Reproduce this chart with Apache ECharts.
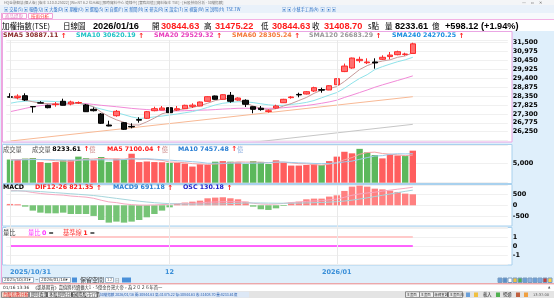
<!DOCTYPE html>
<html><head><meta charset="utf-8">
<script src="https://cdn.jsdelivr.net/npm/echarts@6/dist/echarts.min.js"></script>
<style>html,body{margin:0;padding:0;background:#dfeffb;overflow:hidden}#c{width:554px;height:298px}</style>
</head><body><div id="c"></div>
<script>
// ---------------- DATA ----------------
const dates = ['2025/10/31',
 '2025/11/03','2025/11/04','2025/11/05','2025/11/06','2025/11/07',
 '2025/11/10','2025/11/11','2025/11/12','2025/11/13','2025/11/14',
 '2025/11/17','2025/11/18','2025/11/19','2025/11/20','2025/11/21',
 '2025/11/24','2025/11/25','2025/11/26','2025/11/27','2025/11/28',
 '2025/12/01','2025/12/02','2025/12/03','2025/12/04','2025/12/05',
 '2025/12/08','2025/12/09','2025/12/10','2025/12/11','2025/12/12',
 '2025/12/15','2025/12/16','2025/12/17','2025/12/18','2025/12/19',
 '2025/12/22','2025/12/23','2025/12/24','2025/12/26',
 '2025/12/29','2025/12/30','2025/12/31',
 '2026/01/02',
 '2026/01/05','2026/01/06','2026/01/07','2026/01/08','2026/01/09',
 '2026/01/12','2026/01/13','2026/01/14','2026/01/15','2026/01/16'];
const tickDates  = ['2025/10/31','2025/12/01','2026/01/02'];
const tickLabels = ['2025/10/31','12','2026/01'];

const opens = [28300,28262,28364,27730,27950,27801,27840,28036,27878,27940,
 27818,27566,27290,26644,27190,26779,26560,26960,27037,27484,
 27525,27660,27525,27601,27740,27760,28036,28347,28153,28388,
 28112,28094,27718,27630,27440,27642,27953,28250,28440,28464,
 28640,28720,28699,29010,29780,29990,30420,30300,30345,30502,
 30660,30772,30790,30844.63];
const highs = [28510,28447,28505,27740,28040,27836,27995,28188,28071,28030,
 27877,27680,27349,26896,27525,26820,26744,27100,27466,27718,
 27760,27760,27760,27836,27918,28020,28330,28370,28450,28582,
 28270,28153,27730,27760,27566,27836,28180,28347,28541,28640,
 28893,28834,28980,29390,30250,30600,30654,30560,30560,30737,
 30930,31007,30890,31475.22];
const lows = [28260,28153,28053,27366,27925,27625,27718,27790,27800,27880,
 27407,27440,26703,26570,27131,26350,26450,26780,26996,27448,
 27520,27290,27466,27590,27642,27750,28020,28130,28140,27953,
 28071,27701,27331,27484,27366,27601,27940,28188,28270,28440,
 28582,28541,28690,29000,29750,29950,30302,30226,29950,30461,
 30502,30737,30713,30844.63];
const closes = [28280,28338,28112,27710,27930,27660,27875,27801,27995,27965,
 27425,27484,26744,26585,27448,26391,26530,26930,27425,27601,
 27642,27366,27600,27800,27810,27995,28306,28153,28423,28036,
 28229,27859,27566,27550,27480,27760,28153,28290,28410,28599,
 28834,28690,28951,29363,30105,30576,30500,30345,30289,30620,
 30750,30948,30810.58,31408.70];
const closeBefore = 28350; // close of the session before the window

const sma5 = [28270,28190,28112,28010,27918,27900,27880,27877,27890,27918,
 27850,27718,27400,27150,26950,26800,26650,26644,26830,27050,
 27300,27420,27520,27600,27670,27780,27920,28080,28170,28210,
 28120,27940,27760,27620,27540,27600,27760,27900,28080,28260,
 28500,28690,28780,28900,29200,29550,29900,30130,30300,30400,
 30470,30620,30700,30887.11];
const sma10 = [27918,28000,28040,28050,28053,28040,28020,28000,27970,27920,
 27840,27700,27580,27470,27370,27250,27120,27030,27060,27120,
 27170,27230,27290,27360,27430,27540,27680,27820,27920,27970,
 28010,28000,27960,27890,27830,27790,27800,27850,27900,27970,
 28080,28240,28400,28550,28800,29100,29380,29600,29900,30070,
 30220,30360,30470,30620.19];
const sma20 = [27425,27520,27620,27718,27780,27820,27850,27877,27900,27918,
 27900,27850,27800,27760,27718,27670,27620,27583,27550,27520,
 27490,27466,27470,27485,27500,27515,27525,27550,27580,27600,
 27625,27625,27625,27625,27625,27625,27660,27700,27740,27790,
 27850,27920,28000,28100,28260,28400,28550,28700,28860,29000,
 29130,29260,29390,29529.32];
const sma60Pts  = [[0,25700],[17,26530],[35,27420],[53,28305.24]];
const sma120Pts = [[30,25530],[53,26683.29]];
const sma240Last = 24270.25;

const volumes = [5950,6000,6200,6350,5300,5100,5300,5800,5850,6700,
 6300,5800,6600,5350,6150,5950,7450,5300,5450,5300,
 5250,5100,5100,4900,4150,4750,4600,5400,5550,5400,
 5200,4800,5550,5350,4800,5750,5150,4400,4400,4550,
 4700,4550,5550,6700,7950,7550,8700,7800,7100,6250,
 7300,7000,6850,8233.61];
const volMa5 = [5900,5950,6000,6050,5950,5850,5650,5550,5500,5750,
 6000,6100,6250,6150,6100,6050,6300,6050,6050,5900,
 5750,5300,5250,5150,4900,4800,4700,4800,4900,5150,
 5350,5300,5300,5250,5150,5250,5300,5100,4900,4850,
 4650,4500,4750,5200,5900,6450,7300,7750,7850,7500,
 7350,7150,6950,7100.04];
const volMa10 = [5800,5850,5900,5950,5950,5950,5900,5850,5800,5850,
 5850,5850,5900,5850,5850,5950,6100,6100,6150,6050,
 5900,5800,5650,5550,5400,5250,5000,5000,5000,5000,
 5050,5000,5000,5050,5150,5300,5300,5200,5100,5050,
 4950,4900,4950,5050,5350,5550,6000,6450,6850,6950,
 7300,7450,7400,7457.48];

const dif = [666,667,639,582,538,505,480,463,422,397,
 372,319,231,155,122,65,32,11,8,17,
 32,51,78,87,95,107,138,151,160,163,
 164,146,92,60,47,61,86,127,143,179,
 197,209,248,283,365,456,518,561,597,644,
 689,733,773,821.35];
const macd9 = [650,655,655,645,625,600,575,550,525,500,
 475,445,405,360,315,270,225,185,150,120,
 95,75,62,55,52,52,55,60,65,80,
 93,103,108,107,102,97,94,95,100,108,
 118,130,145,165,195,235,285,340,400,455,
 515,575,635,691.18];
const osc = [16,12,-16,-63,-87,-95,-95,-87,-103,-103,
 -103,-126,-174,-205,-193,-205,-193,-174,-142,-103,
 -63,-24,16,32,43,55,83,91,95,83,
 71,43,-16,-47,-55,-36,-8,32,43,71,
 79,79,103,118,170,221,233,221,197,189,
 174,158,138,130.18];

const volRatio = [0,0,0,0,0,0,0,0,0,0, 0,0,0,0,0,0,0,0,0,0, 0,0,0,0,0,0,0,0,0,0,
 0,0,0,0,0,0,0,0,0,0, 0,0,0,0,0,0,0,0,0,0, 0,0,0,0];
const baseLine = [1,1,1,1,1,1,1,1,1,1, 1,1,1,1,1,1,1,1,1,1, 1,1,1,1,1,1,1,1,1,1,
 1,1,1,1,1,1,1,1,1,1, 1,1,1,1,1,1,1,1,1,1, 1,1,1,1];

// ---------------- CHART ----------------
const N = dates.length, L = N - 1;
const cats = dates.slice();
for (let k = 0; k < 12; k++) cats.push('pad' + k);

const CJK = '"Noto Sans CJK TC"';
const DJ = '"DejaVu Sans"';
const LS = '"Liberation Sans"';
const f2 = v => Number(v).toFixed(2);

function txt(x, y, text, fill, font) {
  return {type:'text', x:x, y:y, z:100, silent:true,
    style:{text:text, fill:fill, font:font, align:'left', verticalAlign:'middle', textAlign:'left', textVerticalAlign:'middle'}};
}
function rtxt(x, y, parts) {
  const rich = {}; let s = '';
  parts.forEach((p, i) => {
    const k = 'p' + i;
    s += '{' + k + '|' + p[0] + '}';
    rich[k] = {fill:p[1], color:p[1], font:p[2]};
  });
  return {type:'text', x:x, y:y, z:100, silent:true,
    style:{text:s, rich:rich, font:'6px ' + DJ, align:'left', verticalAlign:'middle', textAlign:'left', textVerticalAlign:'middle'}};
}
function box(x, y, w, h, fill, stroke, z) {
  return {type:'rect', z:(z === undefined ? -5 : z), silent:true,
    shape:{x:x, y:y, width:w, height:h}, style:{fill:fill, stroke:stroke || null, lineWidth:1}};
}
function hline(x1, x2, y, color, w, z) {
  return {type:'line', z:(z === undefined ? -4 : z), silent:true, shape:{x1:x1, y1:y, x2:x2, y2:y}, style:{stroke:color, lineWidth:w || 1}};
}

const RED = '#ff1a1a';
const ARW = 'bold 7px ' + DJ;
const SF = 'bold 6.3px ' + DJ;

const candleData = opens.map((o, i) => [o, closes[i], lows[i], highs[i]]);
const volData = volumes.map((v, i) => {
  const prev = i ? closes[i - 1] : closeBefore;
  return {value:v, itemStyle:{color: closes[i] >= prev ? '#ff5e5e' : '#5cb85c'}};
});
const oscData = osc.map(v => ({value:v, itemStyle:{color: v >= 0 ? '#ff8080' : '#76c476'}}));
const vLines = tickDates.map(d => ({xAxis:d}));
function vmark(xi, yi) {
  return {type:'line', xAxisIndex:xi, yAxisIndex:yi, data:[], z:0, silent:true,
    markLine:{silent:true, symbol:['none','none'], label:{show:false}, animation:false,
      lineStyle:{color:'#e9e9e9', width:1, type:'solid'}, data:vLines}};
}
const chg = closes[L] - closes[L - 1];
const pct = chg / closes[L - 1] * 100;

const grids = [
  {left:6.2, width:501.6, top:40, height:100.65},
  {left:6.2, width:501.6, top:145, height:37.7},
  {left:6.2, width:501.6, top:185, height:42.3},
  {left:6.2, width:501.6, top:228, height:36}
];
const xAxes = grids.map((g, i) => ({
  type:'category', gridIndex:i, data:cats, boundaryGap:true,
  axisLine:{show:false},
  axisTick:{show:i === 3, alignWithLabel:true, length:3, lineStyle:{color:'#3a8fd8'},
    interval:(idx, v) => tickDates.indexOf(v) >= 0},
  axisLabel:{show:i === 3, margin:5, color:'#3a8fd8', fontFamily:'DejaVu Sans', fontWeight:'bold', fontSize:6.5,
    interval:(idx, v) => tickDates.indexOf(v) >= 0, alignMinLabel:'left',
    formatter:v => tickLabels[tickDates.indexOf(v)] || ''},
  splitLine:{show:false}
}));
const yl = {color:'#000', fontFamily:'DejaVu Sans', fontWeight:'bold', fontSize:6.5, margin:5, showMinLabel:false, showMaxLabel:false};
const ysplit = {show:true, lineStyle:{color:'#f0f0f0', width:1}};
const yAxes = [
  {type:'value', gridIndex:0, position:'right', min:25725, max:31635, interval:525, axisLabel:yl, splitLine:ysplit, axisLine:{show:false}, axisTick:{show:false}},
  {type:'value', gridIndex:1, position:'right', min:0, max:9689, interval:5000, axisLabel:yl, splitLine:ysplit, axisLine:{show:false}, axisTick:{show:false}},
  {type:'value', gridIndex:2, position:'right', min:-1000, max:923.7, interval:500, axisLabel:yl, splitLine:ysplit, axisLine:{show:false}, axisTick:{show:false}},
  {type:'value', gridIndex:2, position:'right', min:-260.3, max:240.1, show:false, splitLine:{show:false}},
  {type:'value', gridIndex:3, position:'right', min:-2, max:2, interval:1, axisLabel:yl, splitLine:ysplit, axisLine:{show:false}, axisTick:{show:false}}
];
function ln(name, data, xi, yi, color, w) {
  return {type:'line', name:name, data:data, xAxisIndex:xi, yAxisIndex:yi, symbol:'none', smooth:false,
    connectNulls:true, clip:true, silent:true, lineStyle:{color:color, width:w || 1}, z:3};
}

const series = [
  vmark(0,0), vmark(1,1), vmark(2,2), vmark(3,4),
  ln('SMA120', sma120Pts, 0, 0, '#c6c6c6'),
  ln('SMA60', sma60Pts, 0, 0, '#f8b995'),
  ln('SMA20', sma20, 0, 0, '#f28ad8'),
  ln('SMA10', sma10, 0, 0, '#8fe3ea'),
  ln('SMA5', sma5, 0, 0, '#c79a9a'),
  {type:'candlestick', name:'K', data:candleData, xAxisIndex:0, yAxisIndex:0, barWidth:6, z:4, silent:true,
    itemStyle:{color:'#ff7070', color0:'#111111', borderColor:'#ff2a2a', borderColor0:'#000000', borderWidth:1}},
  {type:'bar', name:'VOL', data:volData, xAxisIndex:1, yAxisIndex:1, barWidth:6.4, silent:true, z:2},
  ln('VMA5', volMa5, 1, 1, '#f6a5a5'),
  ln('VMA10', volMa10, 1, 1, '#9ccbe9'),
  {type:'bar', name:'OSC', data:oscData, xAxisIndex:2, yAxisIndex:3, barWidth:6.4, silent:true, z:2},
  ln('DIF', dif, 2, 2, '#f6a8c0'),
  ln('MACD9', macd9, 2, 2, '#a6d6dc'),
  ln('BASE', baseLine, 3, 4, '#ffcaca', 2.2),
  ln('RATIO', volRatio, 3, 4, '#ff33ff', 1.3)
];

const G = [];
// top chrome
G.push(box(0, 0, 554, 5, '#f4f5f7', null, -6));
G.push(txt(4, 2.6, 'HQ金融智慧(個人版) [版本 3.10.0.25022] [WinNT 6.2 位元組] [即時資料中心 連線中] [實際加值] [資料版本 TSE] - [台股技術分析 - 加權指數]', '#777', '3.6px ' + CJK));
G.push(txt(522, 2.6, '—    ▫    ✕', '#666', '4px ' + DJ));
G.push(box(0, 5, 554, 8, '#e9f1fa', null, -6));
G.push(txt(4, 9, '▣ 交易(S) ▣ 報價(Q) ▣ 大盤(D) ▣ 期權(O) ▣ 選股(S) ▣ 自選(F) ▣ 新聞(N) ▣ 研究(R) ▣ 設定(T) ▣ 視窗(W) ▣ 說明(H)  TSE.TW', '#2a6fc4', '4.2px ' + CJK));
G.push(txt(282, 9, '▣ ▣ 小幫手工具(A)  ▣  ▣ ▣', '#2a6fc4', '4.2px ' + CJK));
G.push(box(0, 13, 554, 6.5, '#f7f9fc', null, -6));
G.push(box(2.5, 13.5, 24, 5, '#ffffff', '#f0a0d8', -4));
G.push(box(28.5, 13.5, 24, 5, '#ffffff', '#f0a0d8', -4));
G.push(txt(5, 16.2, '商品提取', '#e080c0', '4.5px ' + CJK));
G.push(txt(31, 16.2, '技術分析', '#ff3030', '4.5px ' + CJK));
G.push(box(0, 19.5, 554, 11.5, '#ffffff', null, -6));
G.push(hline(0, 554, 19.5, '#f3b2e4', 1, -4));
G.push({type:'line', z:-3, silent:true, shape:{x1:1.5, y1:13, x2:1.5, y2:283}, style:{stroke:'#f0a6dc', lineWidth:1}});

// header
const HC = '7.5px ' + CJK, HN = 'bold 9.2px ' + LS;
G.push(txt(2, 26, '加權指數(TSE)', '#000', HC));
G.push(txt(63, 26, '日線圖', '#000', HC));
G.push(txt(93, 26, dates[L], '#000', HN));
G.push(txt(152, 26, '開', '#000', HC));
G.push(txt(161, 26, f2(opens[L]), RED, HN));
G.push(txt(204, 26, '高', '#000', HC));
G.push(txt(215, 26, f2(highs[L]), RED, HN));
G.push(txt(261, 26, '低', '#000', HC));
G.push(txt(272, 26, f2(lows[L]), RED, HN));
G.push(txt(312, 26, '收', '#000', HC));
G.push(txt(324, 26, f2(closes[L]), RED, HN));
G.push(txt(368, 26, 's點', '#000', HC));
G.push(txt(385, 26, '量', '#000', HC));
G.push(txt(395, 26, f2(volumes[L]), '#000', HN));
G.push(txt(432, 26, '億', '#000', HC));
G.push(txt(445, 26, '+' + f2(chg) + ' (+' + f2(pct) + '%)', '#000', HN));

// panels
G.push(box(2.5, 31.5, 509.5, 110.5, '#ffffff', '#eaa6e4'));
G.push(box(2.5, 144.5, 509.5, 39, '#ffffff', '#a9d1ee'));
G.push(box(2.5, 184.5, 509.5, 41.5, '#ffffff', '#a9d1ee'));
G.push(box(2.5, 227.5, 509.5, 37.5, '#ffffff', '#a9d1ee'));

// SMA row
const smaRow = [[3, 'SMA5 ' + f2(sma5[L]), '#8a2b2b'], [76, 'SMA10 ' + f2(sma10[L]), '#22c2c6'],
  [154, 'SMA20 ' + f2(sma20[L]), '#e83cbc'], [232, 'SMA60 ' + f2(sma60Pts[sma60Pts.length - 1][1]), '#f47a3a'],
  [309, 'SMA120 ' + f2(sma120Pts[sma120Pts.length - 1][1]), '#999999'], [392, 'SMA240 ' + f2(sma240Last), '#1a8ee0']];
smaRow.forEach(r => G.push(rtxt(r[0], 35.8, [[r[1], r[2], SF], [' ↑', RED, ARW]])));

// volume row
const VC = '6.3px ' + CJK;
G.push(txt(3, 149.3, '成交量', '#555', VC));
G.push(rtxt(32, 149.3, [['成交量 ', '#555', VC], [f2(volumes[L]), '#000', SF], [' ↑', RED, ARW], ['億', '#c98080', VC]]));
G.push(rtxt(107, 149.3, [['MA5 ' + f2(volMa5[L]), RED, SF], [' ↑', RED, ARW], ['億', '#c98080', VC]]));
G.push(rtxt(178, 149.3, [['MA10 ' + f2(volMa10[L]), '#2a7fd4', SF], [' ↑', RED, ARW], ['億', '#88aadd', VC]]));

// MACD row
G.push(txt(3, 187.8, 'MACD', '#000', SF));
G.push(rtxt(35, 187.8, [['DIF12-26 ' + f2(dif[L]), RED, SF], [' ↑', RED, ARW]]));
G.push(rtxt(113, 187.8, [['MACD9 ' + f2(macd9[L]), '#2a7fd4', SF], [' ↑', RED, ARW]]));
G.push(rtxt(183, 187.8, [['OSC ' + f2(osc[L]), '#1c1ccc', SF], [' ↑', RED, ARW]]));

// ratio row
G.push(txt(3, 233, '量比', '#333', VC));
G.push(rtxt(28, 233, [['量比 ', '#ff33ff', VC], [String(volRatio[L]), '#ff33ff', SF], [' =', '#333', SF]]));
G.push(rtxt(63, 233, [['基準線 ', '#ff4040', VC], [String(baseLine[L]), '#ff2020', SF], [' =', '#333', SF]]));

// bottom controls
const SM = '4.3px ' + DJ, SC = '4.3px ' + CJK;
G.push(box(2.5, 277.5, 31, 5, '#ffffff', '#9fb4c8', -3));
G.push(txt(4, 280.1, '2025/10/31', '#333', SM));
G.push(txt(28.5, 280.1, '▾', '#333', SM));
G.push(txt(35, 280.1, '~', '#333', SM));
G.push(box(39.5, 277.5, 31, 5, '#ffffff', '#9fb4c8', -3));
G.push(txt(41, 280.1, '2026/01/16', '#333', SM));
G.push(txt(65.5, 280.1, '▾', '#333', SM));
G.push(box(72, 277.5, 5, 5, '#4a90d9', null, -3));
G.push(txt(80, 280.2, '保留空間', '#333', '6px ' + CJK));
G.push(box(105.5, 277.5, 8, 5, '#ffffff', '#9fb4c8', -3));
G.push(txt(107, 280.1, '12', '#777', SM));
G.push(txt(115, 280.1, '日', '#777', SC));
G.push(box(122, 277.5, 9, 5, '#4a90d9', null, -3));
const icoC = ['#6a9fd8','#5a8fc8','#ffffff','#f0c040','#50b050','#6a9fd8','#8ab0e0','#6a9fd8','#7aa8e0','#c04040','#ffd040'];
icoC.forEach((c, k) => G.push(box(498 + k * 5, 278, 4, 4.5, c, '#7a9cc0', -3)));
G.push(hline(0, 554, 283.8, '#f28b8b', 1, -2));
G.push(box(0, 284.3, 554, 6.8, '#ffffff', null, -3));
G.push(txt(3, 287.6, '01/16 13:36', '#333', SM));
G.push(txt(33, 287.6, '《凱基期貨》嘉值將持續擴大1．5億金台灣大帝，為２０２６年首一', '#333', SC));
G.push(txt(548, 287.6, '▲', '#555', '3px ' + DJ));

// taskbar
G.push(box(0, 291.1, 554, 7, '#e4e4e4', null, -3));
G.push(box(1.5, 291.8, 27, 5.6, '#f8dccd', '#8a8a8a', -2));
G.push(txt(3, 294.6, '台股指數分析', '#e02020', SC));
G.push(box(29.5, 291.8, 17, 5.6, '#f4f4f4', '#8a8a8a', -2));
G.push(txt(31, 294.6, '即時看盤', '#333', SC));
G.push(box(47.5, 291.8, 24, 5.6, '#f4f4f4', '#8a8a8a', -2));
G.push(txt(49, 294.6, '多股即時分析', '#333', SC));
G.push(box(72.5, 291.8, 25, 5.6, '#f4f4f4', '#8a8a8a', -2));
G.push(txt(74, 294.6, '國際股市行情', '#333', SC));
G.push(box(99, 291.8, 150, 5.6, '#dde8f6', null, -2));
G.push(txt(100, 294.6, '加權指數 ' + dates[L] + ' 開:' + f2(opens[L]) + ' 高:' + f2(highs[L]) + ' 低:' + f2(lows[L]) + ' 收:' + f2(closes[L]) + ' 量:' + f2(volumes[L]) + '億', '#2a5fb0', '3.6px ' + CJK));
[[406,'主畫面'],[420,'主畫面'],[434,'帳務查詢'],[449,'主畫面(8)']].forEach(b => {
  G.push(box(b[0] - 0.5, 291.8, 14, 5.6, '#f4f4f4', '#8a8a8a', -2));
  G.push(txt(b[0] + 0.5, 294.6, b[1], '#333', '3.4px ' + CJK));
});
G.push(box(466, 292.5, 4, 4.5, '#6a9fd8', null, -2));
G.push(box(474, 292.5, 4, 4.5, '#f0c040', null, -2));
G.push(txt(483, 294.6, '載入', '#333', SC));
G.push(box(496, 292.5, 4, 4.5, '#50b050', null, -2));
G.push(txt(503, 294.6, '暢通', '#333', SC));
G.push(box(516, 292.5, 4, 4.5, '#c06040', null, -2));
G.push(box(524, 292.5, 4, 4.5, '#f0a040', null, -2));
G.push(txt(533, 294.6, '13:37:00', '#555', '3.6px ' + DJ));

const option = {
  animation:false,
  backgroundColor:'#dfeffb',
  grid:grids, xAxis:xAxes, yAxis:yAxes, series:series,
  graphic:{elements:G}
};
const chart = echarts.init(document.getElementById('c'), null, {renderer:'canvas'});
chart.setOption(option);
</script></body></html>
